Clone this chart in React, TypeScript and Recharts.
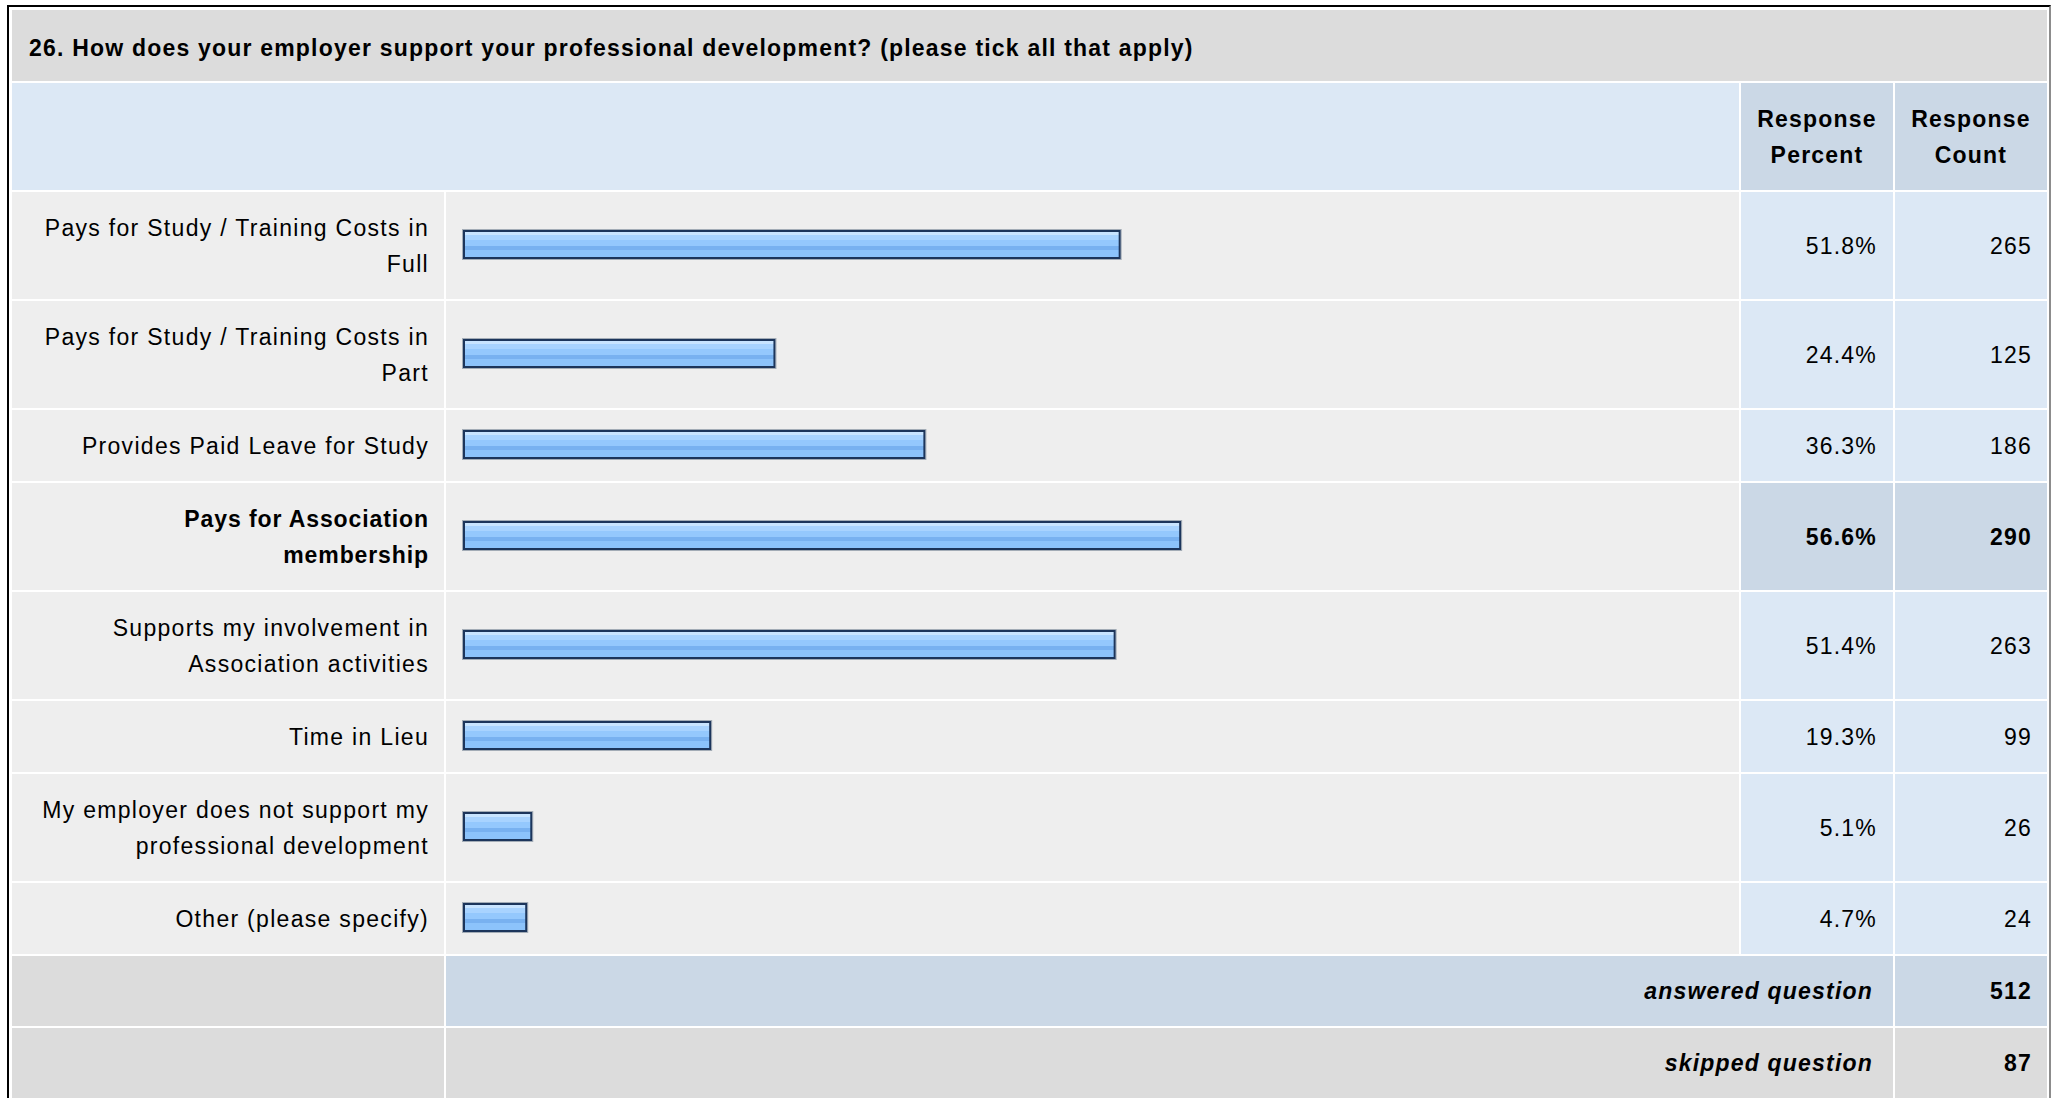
import React from 'react';
import { BarChart, Bar, XAxis, YAxis } from 'recharts';

// ---------- data ----------
const questionTitle =
  '26. How does your employer support your professional development? (please tick all that apply)';
const categories = [
  'Pays for Study / Training Costs in\nFull',
  'Pays for Study / Training Costs in\nPart',
  'Provides Paid Leave for Study',
  'Pays for Association\nmembership',
  'Supports my involvement in\nAssociation activities',
  'Time in Lieu',
  'My employer does not support my\nprofessional development',
  'Other (please specify)',
];
const responsePercent = [51.8, 24.4, 36.3, 56.6, 51.4, 19.3, 5.1, 4.7];
const responseCount = [265, 125, 186, 290, 263, 99, 26, 24];
const columnHeaders = ['Response\nPercent', 'Response\nCount'];
const summaryLabels = ['answered question', 'skipped question'];
const summaryValues = [512, 87];

// ---------- layout / style ----------
const FONT = '"Liberation Sans", Arial, Helvetica, sans-serif';
const COLS = [432, 1293, 152, 152];
const GAP = 2;
const TITLE_H = 71;
const HEADER_H = 107;
const TALL_H = 107;
const SHORT_H = 71;
const FOOT_H = 70;
const C_TITLE = '#dcdcdc';
const C_LIGHTBLUE = '#dce8f5';
const C_BLUE = '#cbd8e6';
const C_CELL = '#eeeeee';
const C_GRAY = '#dcdcdc';

const maxIdx = responseCount.indexOf(Math.max(...responseCount));
const rowHeights = categories.map((c) => (c.includes('\n') ? TALL_H : SHORT_H));

const baseText: React.CSSProperties = {
  fontFamily: FONT,
  fontSize: 23,
  letterSpacing: 1.2,
  color: '#000',
  lineHeight: '36px',
};

const BarShape = (props: any) => {
  const { x, y, width, height, gid } = props;
  const w = width + 5;
  return (
    <g>
      <rect x={x - 0.5} y={y - 0.5} width={w + 1} height={height + 1} fill="none" stroke="#a3acb6" strokeWidth={1} />
      <rect x={x + 1} y={y + 1} width={w - 2} height={height - 2} fill={`url(#${gid})`} stroke="#1c355b" strokeWidth={2} />
    </g>
  );
};

const RowBar = ({ idx, height }: { idx: number; height: number }) => {
  const gid = `barStripes${idx}`;
  const data = [{ name: categories[idx], value: responsePercent[idx] }];
  return (
    <BarChart
      width={COLS[1]}
      height={height}
      data={data}
      layout="vertical"
      margin={{ top: 0, right: 16, bottom: 3, left: 17 }}
    >
      <defs>
        <linearGradient id={gid} x1="0" y1="0" x2="0" y2="1">
          <stop offset="0" stopColor="#c8e4ff" />
          <stop offset="0.15" stopColor="#c8e4ff" />
          <stop offset="0.15" stopColor="#a8d3ff" />
          <stop offset="0.33" stopColor="#a8d3ff" />
          <stop offset="0.33" stopColor="#94c8fd" />
          <stop offset="0.56" stopColor="#94c8fd" />
          <stop offset="0.56" stopColor="#78b1f0" />
          <stop offset="0.7" stopColor="#78b1f0" />
          <stop offset="0.7" stopColor="#8cc3fb" />
          <stop offset="1" stopColor="#8cc3fb" />
        </linearGradient>
      </defs>
      <XAxis type="number" domain={[0, 100]} hide />
      <YAxis type="category" dataKey="name" hide />
      <Bar
        dataKey="value"
        barSize={29}
        isAnimationActive={false}
        shape={(p: any) => <BarShape {...p} gid={gid} />}
      />
    </BarChart>
  );
};

export default function App() {
  const rows = [TITLE_H, HEADER_H, ...rowHeights, FOOT_H, FOOT_H];
  const cell = (bg: string, extra: React.CSSProperties = {}): React.CSSProperties => ({
    background: bg,
    display: 'flex',
    alignItems: 'center',
    boxSizing: 'border-box',
    ...baseText,
    ...extra,
  });
  return (
    <div
      style={{
        position: 'absolute',
        left: 0,
        top: 0,
        width: 2051,
        height: 1098,
        overflow: 'hidden',
        background: '#fff',
      }}
    >
      <div
        style={{
          position: 'absolute',
          left: 7,
          top: 5,
          borderTop: '2px solid #000',
          borderLeft: '2px solid #000',
          borderRight: '2px solid #8c8c8c',
          padding: '3px 2px 0 3px',
          background: '#fff',
        }}
      >
        <div
          style={{
            display: 'grid',
            gridTemplateColumns: COLS.map((c) => `${c}px`).join(' '),
            gridTemplateRows: rows.map((r) => `${r}px`).join(' '),
            gap: GAP,
            background: '#fff',
          }}
        >
          {/* title */}
          <div style={cell(C_TITLE, { gridColumn: '1 / 5', paddingLeft: 17, paddingTop: 5, fontWeight: 'bold' })}>
            {questionTitle}
          </div>
          {/* header */}
          <div style={cell(C_LIGHTBLUE, { gridColumn: '1 / 3' })} />
          {columnHeaders.map((h) => (
            <div
              key={h}
              style={cell(C_BLUE, {
                justifyContent: 'center',
                textAlign: 'center',
                fontWeight: 'bold',
                whiteSpace: 'pre-line',
                paddingTop: 1,
              })}
            >
              {h}
            </div>
          ))}
          {/* body rows */}
          {categories.map((c, i) => {
            const bold = i === maxIdx;
            const fw = bold ? 'bold' : 'normal';
            return (
              <React.Fragment key={c}>
                <div
                  style={cell(C_CELL, {
                    justifyContent: 'flex-end',
                    textAlign: 'right',
                    paddingRight: 15,
                    whiteSpace: 'pre-line',
                    fontWeight: fw,
                    letterSpacing: bold ? 0.9 : 1.3,
                  })}
                >
                  {c}
                </div>
                <div style={{ background: C_CELL, overflow: 'hidden' }}>
                  <RowBar idx={i} height={rowHeights[i]} />
                </div>
                <div style={cell(bold ? C_BLUE : C_LIGHTBLUE, { justifyContent: 'flex-end', paddingRight: 16, fontWeight: fw })}>
                  {responsePercent[i].toFixed(1)}%
                </div>
                <div style={cell(bold ? C_BLUE : C_LIGHTBLUE, { justifyContent: 'flex-end', paddingRight: 15, fontWeight: fw })}>
                  {responseCount[i]}
                </div>
              </React.Fragment>
            );
          })}
          {/* summary rows */}
          {summaryLabels.map((s, i) => (
            <React.Fragment key={s}>
              <div style={cell(C_GRAY)} />
              <div
                style={cell(i === 0 ? C_BLUE : C_GRAY, {
                  gridColumn: '2 / 4',
                  justifyContent: 'flex-end',
                  paddingRight: 20,
                  fontWeight: 'bold',
                  fontStyle: 'italic',
                })}
              >
                {s}
              </div>
              <div style={cell(i === 0 ? C_BLUE : C_GRAY, { justifyContent: 'flex-end', paddingRight: 15, fontWeight: 'bold' })}>
                {summaryValues[i]}
              </div>
            </React.Fragment>
          ))}
        </div>
      </div>
    </div>
  );
}
